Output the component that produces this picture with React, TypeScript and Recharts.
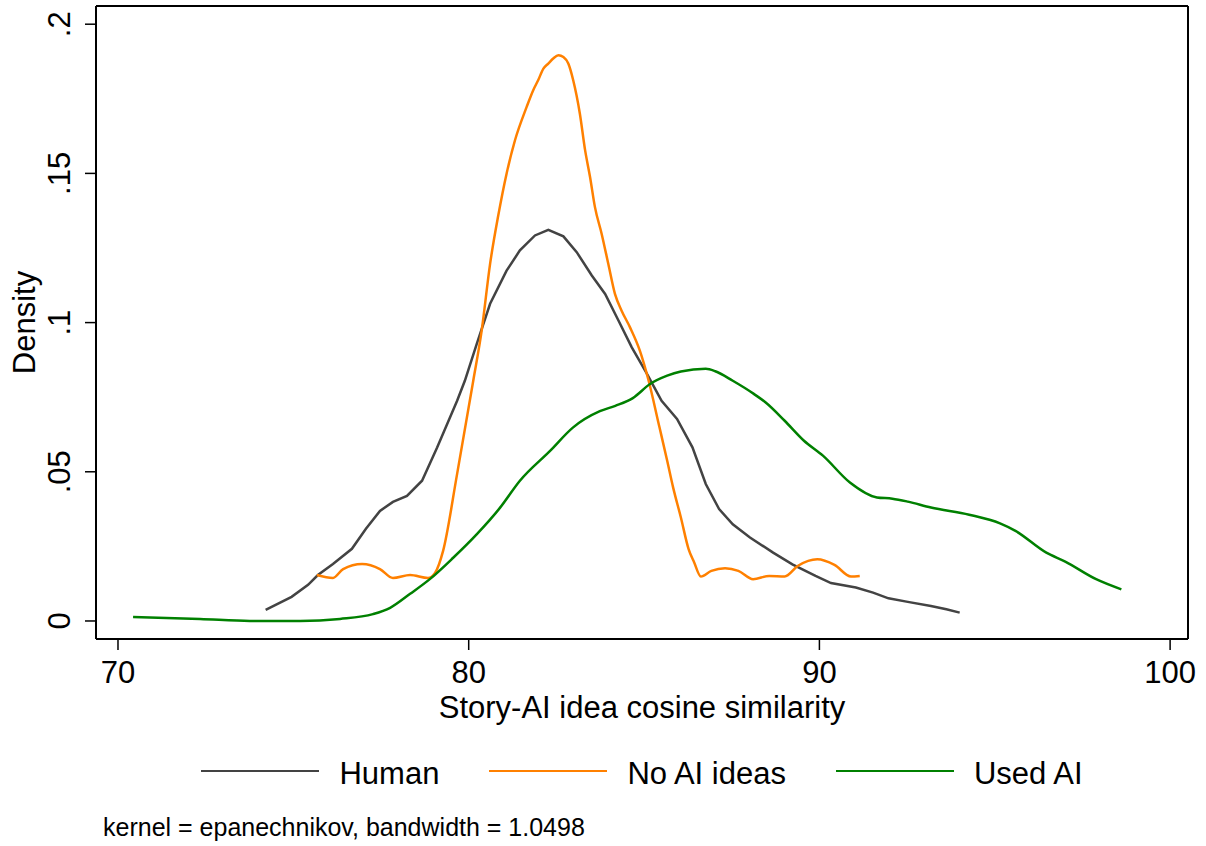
import React from "react";
import { LineChart, Line, XAxis, YAxis } from "recharts";

const FONT = '"Liberation Sans", Arial, Helvetica, sans-serif';

// kernel density estimates: [similarity, density]
const human: [number, number][] = [
  [74.21, 0.0037], [74.95, 0.0081], [75.42, 0.0121], [75.7, 0.0154],
  [76.13, 0.0191], [76.67, 0.0242], [77.07, 0.0309], [77.47, 0.0369],
  [77.84, 0.0399], [78.24, 0.0419], [78.67, 0.047], [79.1, 0.0581],
  [79.67, 0.0738], [79.89, 0.0805], [80.23, 0.0929], [80.61, 0.1063],
  [81.08, 0.1174], [81.46, 0.1242], [81.89, 0.1292], [82.27, 0.1311],
  [82.7, 0.1289], [83.08, 0.1236], [83.51, 0.1158], [83.89, 0.1096],
  [84.27, 0.1007], [84.65, 0.0917], [85.06, 0.0833], [85.5, 0.0738],
  [85.94, 0.0677], [86.38, 0.0582], [86.76, 0.0459], [87.14, 0.0375],
  [87.53, 0.0324], [88.02, 0.028], [88.68, 0.0229], [89.23, 0.019],
  [89.89, 0.0151], [90.33, 0.0127], [91.04, 0.0112], [91.53, 0.0095],
  [91.97, 0.0076], [92.52, 0.0064], [93.18, 0.005], [93.62, 0.0039],
  [94.0, 0.0028],
];

const noAiIdeas: [number, number][] = [
  [75.67, 0.0154], [76.13, 0.0144], [76.42, 0.0174], [76.96, 0.0191],
  [77.47, 0.0174], [77.84, 0.0144], [78.33, 0.0154], [78.84, 0.0144],
  [79.04, 0.0161], [79.27, 0.0235], [79.67, 0.0493], [80.13, 0.0805],
  [80.37, 0.0973], [80.61, 0.1197], [80.84, 0.1357], [81.08, 0.1499],
  [81.32, 0.1611], [81.65, 0.1722], [81.84, 0.1779], [81.98, 0.1812],
  [82.13, 0.1851], [82.27, 0.1868], [82.41, 0.1885], [82.56, 0.1896],
  [82.7, 0.189], [82.84, 0.1868], [82.98, 0.1812], [83.17, 0.17],
  [83.32, 0.1577], [83.46, 0.1488], [83.6, 0.1387], [83.79, 0.1298],
  [83.98, 0.1197], [84.17, 0.1096], [84.36, 0.104], [84.6, 0.0984],
  [84.88, 0.0906], [85.12, 0.081], [85.44, 0.0649], [85.66, 0.0537],
  [85.83, 0.0447], [86.05, 0.0347], [86.27, 0.0241], [86.43, 0.0196],
  [86.62, 0.0149], [86.92, 0.0168], [87.31, 0.0177], [87.69, 0.0168],
  [88.11, 0.014], [88.57, 0.0151], [89.01, 0.0149], [89.39, 0.0185],
  [89.94, 0.0207], [90.43, 0.0188], [90.9, 0.0149], [91.15, 0.0151],
];

const usedAi: [number, number][] = [
  [70.43, 0.0013], [72.34, 0.0007], [73.76, 0.0], [75.19, 0.0],
  [76.33, 0.0007], [77.27, 0.0023], [77.76, 0.0044], [78.33, 0.0091],
  [78.9, 0.0141], [79.55, 0.0211], [80.24, 0.0292], [80.89, 0.0379],
  [81.46, 0.047], [82.32, 0.057], [82.97, 0.0648], [83.74, 0.0703],
  [84.18, 0.0721], [84.68, 0.0747], [85.17, 0.0794], [85.66, 0.0822],
  [86.05, 0.0836], [86.76, 0.0845], [87.03, 0.0837], [87.53, 0.0805],
  [88.13, 0.0761], [88.46, 0.0733], [89.01, 0.0671], [89.56, 0.0604],
  [90.1, 0.0554], [90.87, 0.0464], [91.64, 0.0414], [92.08, 0.041],
  [92.52, 0.04], [93.18, 0.038], [94.27, 0.0356], [95.15, 0.0327],
  [95.59, 0.0302], [96.47, 0.0229], [97.01, 0.0199], [97.89, 0.014],
  [98.61, 0.0106],
];

const xTicks = [70, 80, 90, 100];
const yTicks = [0, 0.05, 0.1, 0.15, 0.2];

const toPoints = (pairs: [number, number][]) => pairs.map(([x, y]) => ({ x, y }));

const series = [
  { name: "Human", color: "#434343", data: toPoints(human), curve: "linear" },
  { name: "No AI ideas", color: "#ff8000", data: toPoints(noAiIdeas), curve: "monotone" },
  { name: "Used AI", color: "#008000", data: toPoints(usedAi), curve: "monotone" },
];

const fmtY = (v: number) => (v === 0 ? "0" : String(v).replace(/^0/, ""));

const DensityTick = (props: any) => {
  const { x, y, payload } = props;
  return (
    <text
      x={x}
      y={y}
      transform={`rotate(-90 ${x} ${y})`}
      textAnchor="middle"
      fontSize={31}
      fontFamily={FONT}
      fill="#000"
    >
      {fmtY(payload.value)}
    </text>
  );
};

const frame = { stroke: "#000", strokeWidth: 2 };

export default function App() {
  return (
    <div style={{ position: "absolute", left: 0, top: 0, width: 1206, height: 846, background: "#fff" }}>
      <LineChart width={1206} height={846} margin={{ top: 5, right: 17, bottom: 107, left: 0 }}>
        <XAxis
          dataKey="x"
          type="number"
          domain={[69.373, 100.51]}
          ticks={xTicks}
          allowDataOverflow
          height={100}
          tickSize={11}
          tickMargin={11}
          axisLine={frame}
          tickLine={{ stroke: "#000", strokeWidth: 1.5 }}
          tick={{ fill: "#000", fontSize: 31, fontFamily: FONT }}
          label={{
            content: (p: any) => (
              <text
                x={p.viewBox.x + p.viewBox.width / 2}
                y={p.viewBox.y + 79}
                textAnchor="middle"
                fontSize={31}
                fontFamily={FONT}
                fill="#000"
              >
                Story-AI idea cosine similarity
              </text>
            ),
          }}
        />
        <XAxis
          xAxisId="top"
          orientation="top"
          type="number"
          domain={[0, 1]}
          height={1}
          tick={false}
          tickLine={false}
          axisLine={frame}
        />
        <YAxis
          type="number"
          domain={[-0.00604, 0.2061]}
          ticks={yTicks}
          allowDataOverflow
          width={96}
          tickSize={11}
          tickMargin={15}
          axisLine={frame}
          tickLine={{ stroke: "#000", strokeWidth: 1.5 }}
          tick={<DensityTick />}
          label={{
            content: (p: any) => {
              const cx = p.viewBox.x + 35;
              const cy = p.viewBox.y + p.viewBox.height / 2;
              return (
                <text
                  x={cx}
                  y={cy}
                  transform={`rotate(-90 ${cx} ${cy})`}
                  textAnchor="middle"
                  fontSize={31}
                  fontFamily={FONT}
                  fill="#000"
                >
                  Density
                </text>
              );
            },
          }}
        />
        <YAxis
          yAxisId="right"
          orientation="right"
          type="number"
          domain={[0, 1]}
          width={1}
          tick={false}
          tickLine={false}
          axisLine={frame}
        />
        {series.map((s) => (
          <Line
            key={s.name}
            data={s.data}
            dataKey="y"
            name={s.name}
            type={s.curve as any}
            stroke={s.color}
            strokeWidth={2.5}
            dot={false}
            activeDot={false}
            isAnimationActive={false}
          />
        ))}
      </LineChart>

      {/* legend */}
      <div
        style={{
          position: "absolute",
          left: 96,
          width: 1092,
          top: 759,
          display: "flex",
          justifyContent: "center",
          alignItems: "center",
          fontFamily: FONT,
          fontSize: 31,
          lineHeight: "30px",
        }}
      >
        {series.map((s, i) => (
          <div
            key={s.name}
            style={{ display: "flex", alignItems: "center", marginRight: i < series.length - 1 ? 50 : 0 }}
          >
            <span
              style={{
                display: "inline-block",
                width: 118,
                height: 2.5,
                background: s.color,
                marginRight: 20,
                position: "relative",
                top: -3,
              }}
            />
            <span>{s.name}</span>
          </div>
        ))}
      </div>

      <div
        style={{
          position: "absolute",
          left: 103,
          top: 815,
          fontFamily: FONT,
          fontSize: 25,
          lineHeight: "25px",
          whiteSpace: "nowrap",
        }}
      >
        kernel = epanechnikov, bandwidth = 1.0498
      </div>
    </div>
  );
}
